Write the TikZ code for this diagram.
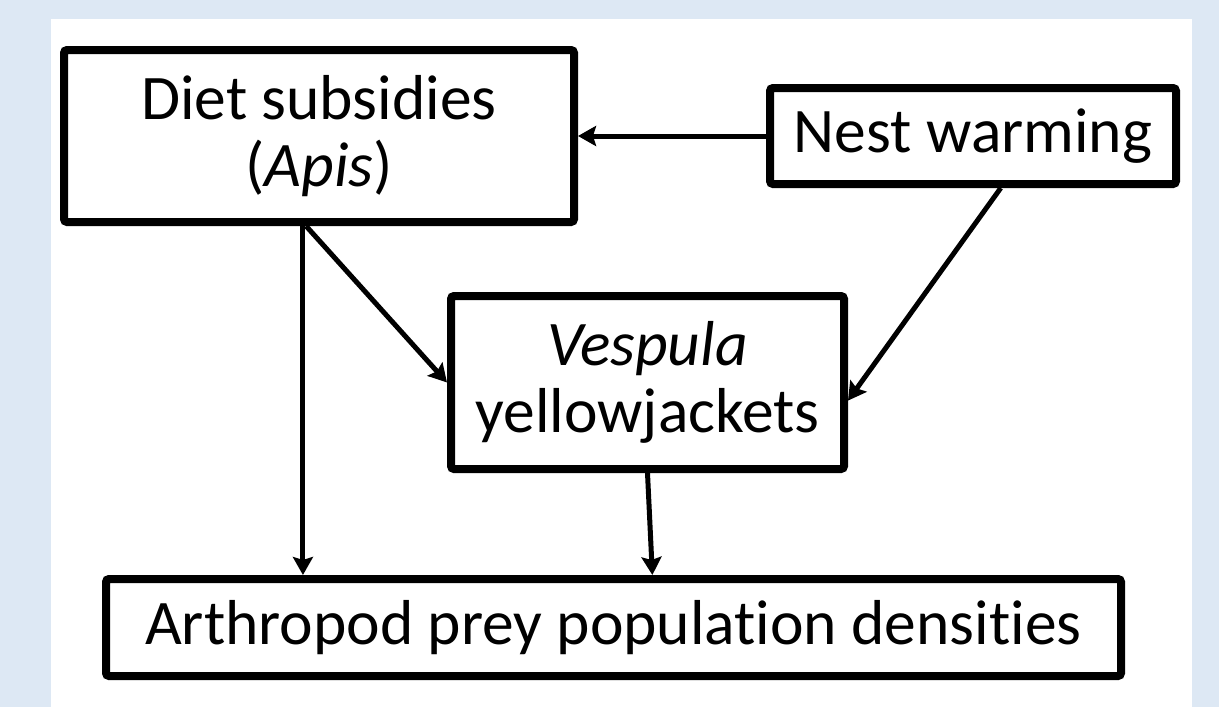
\documentclass[tikz,border=0pt]{standalone}
\usepackage{fontspec}
\setmainfont{Carlito}[Ligatures=NoCommon]
\usetikzlibrary{arrows.meta,calc}
\definecolor{bgblue}{HTML}{DDE8F4}
\tikzset{
  box/.style={draw=black, line width=8pt, rounded corners=3pt, fill=white, inner sep=0pt,
    align=center, font=\fontsize{63.5}{67}\selectfont},
  arr/.style={line width=5pt, -{Stealth[length=18pt,width=20pt,inset=3pt]}}
}
\begin{document}
\begin{tikzpicture}[x=1pt,y=-1pt]
\fill[bgblue] (0,0) rectangle (1219,707);
\fill[white] (51,19) rectangle (1192,707);
\useasboundingbox (0,0) rectangle (1219,707);
\node[box, minimum width=510pt, minimum height=172pt] (diet) at (319,136) {Diet subsidies\\(\textit{Apis})};
\node[box, minimum width=406pt, minimum height=96pt] (nest) at (973,136) {Nest warming};
\node[box, minimum width=393pt, minimum height=173pt] (vesp) at (647.5,382.5) {\textit{Vespula}\\yellowjackets};
\node[box, minimum width=1015pt, minimum height=97pt] (arth) at (613.5,627.5) {Arthropod prey population densities};
\coordinate (d1) at ($(diet.south west)!0.469!(diet.south east)$);
\coordinate (d2) at ($(diet.south west)!0.475!(diet.south east)$);
\coordinate (n1) at ($(nest.south west)!0.567!(nest.south east)$);
\coordinate (v1) at ($(vesp.north east)!0.6!(vesp.south east)$);
\coordinate (a1) at ($(arth.north west)!0.538!(arth.north east)$);
\draw[arr] (nest.west) -- (nest.west -| diet.east);
\draw[arr] (d1) -- (d1 |- arth.north);
\draw[arr] (d2) -- (vesp.west);
\draw[arr] (n1) -- (v1);
\draw[arr] (vesp.south) -- (a1);
\end{tikzpicture}
\end{document}
